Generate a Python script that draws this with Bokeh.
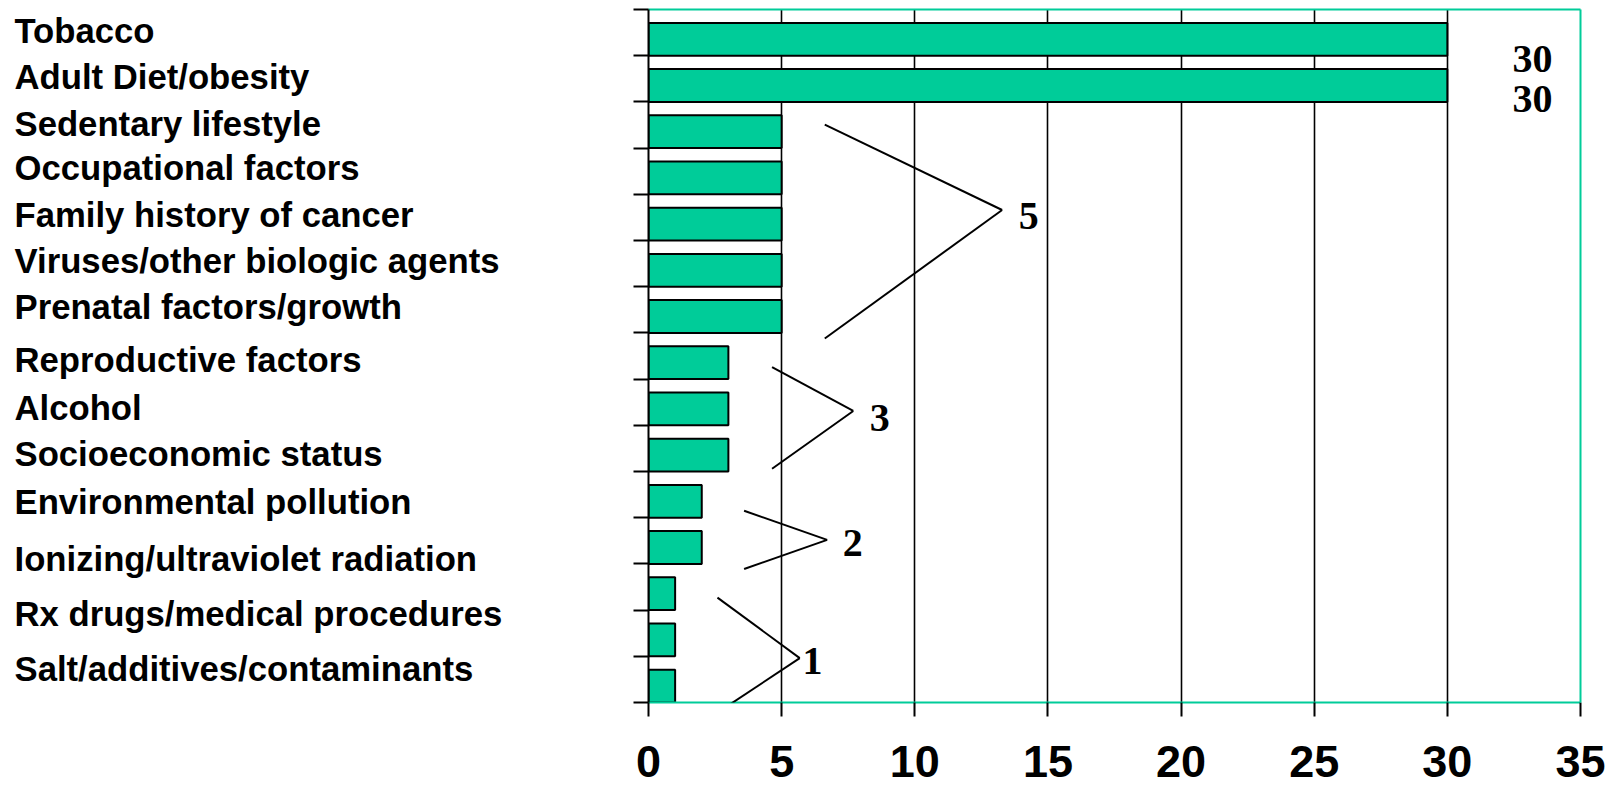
from bokeh.plotting import figure
from bokeh.layouts import row
from bokeh.models import Range1d, LinearAxis, FixedTicker, ColumnDataSource, Arrow
from bokeh.core.properties import value
from bokeh.embed import file_html
from bokeh.resources import INLINE

# ---- data -------------------------------------------------------------
# Estimated share (%) of cancer deaths attributable to each factor,
# one bar per row, listed from top to bottom.
bar_values = [30, 30, 5, 5, 5, 5, 5, 3, 3, 3, 2, 2, 1, 1, 1]

factor_labels = [
    "Tobacco",
    "Adult Diet/obesity",
    "Sedentary lifestyle",
    "Occupational factors",
    "Family history of cancer",
    "Viruses/other biologic agents",
    "Prenatal factors/growth",
    "Reproductive factors",
    "Alcohol",
    "Socioeconomic status",
    "Environmental pollution",
    "Ionizing/ultraviolet radiation",
    "Rx drugs/medical procedures",
    "Salt/additives/contaminants",
]

x_ticks = [0, 5, 10, 15, 20, 25, 30, 35]

# ---- layout / style ---------------------------------------------------
TEAL = "#00CC99"
LABEL_FONT = value("Liberation Sans")
NUM_FONT = value("Liberation Serif")
BAR_H = 0.71           # bar thickness as a fraction of one row
N_ROWS = len(bar_values)

# vertical placement of the factor names (row units, 0 = bottom)
label_rows = [14.54, 13.54, 12.53, 11.57, 10.56, 9.56, 8.57,
              7.41, 6.38, 5.38, 4.33, 3.10, 1.91, 0.73]

# bracket call-outs: which bar's value they quote, the two arm ends,
# the tip, and where the number sits
brackets = [
    dict(bar=2,  top=(6.62, 12.51), tip=(13.28, 10.66), bottom=(6.62, 7.88),  text=(14.28, 10.52)),
    dict(bar=7,  top=(4.64, 7.26),  tip=(7.69, 6.31),   bottom=(4.64, 5.06),  text=(8.68, 6.15)),
    dict(bar=10, top=(3.59, 4.15),  tip=(6.71, 3.52),   bottom=(3.59, 2.89),  text=(7.67, 3.46)),
    dict(bar=12, top=(2.59, 2.27),  tip=(5.68, 0.96),   bottom=(2.59, -0.22), text=(6.16, 0.90)),
]
# value labels for the two long bars
top_value_pos = [(33.2, 13.93), (33.2, 13.07)]

LEFT_W = 600
TOTAL_W = 1619
H = 790
TOP_B = 9
BOTTOM_B = 88

y_range = Range1d(0, N_ROWS)

# ---- left panel: factor names ----------------------------------------
names = figure(width=LEFT_W, height=H, x_range=Range1d(0, LEFT_W), y_range=y_range,
               toolbar_location=None, output_backend="svg",
               min_border_left=0, min_border_right=0,
               min_border_top=TOP_B, min_border_bottom=BOTTOM_B)
names.axis.visible = False
names.grid.visible = False
names.outline_line_color = None
names.text(x=[14] * len(factor_labels), y=label_rows, text=factor_labels,
           text_font=LABEL_FONT, text_font_style="bold", text_font_size="34.7px",
           text_align="left", text_baseline="middle", text_color="black")

# ---- right panel: bars ----------------------------------------------
p = figure(width=TOTAL_W - LEFT_W, height=H, x_range=Range1d(0, 35), y_range=y_range,
           toolbar_location=None, output_backend="svg",
           min_border_left=48, min_border_right=39,
           min_border_top=TOP_B, min_border_bottom=BOTTOM_B)
p.outline_line_color = None
p.background_fill_color = "white"

slots = [N_ROWS - 1 - i for i in range(N_ROWS)]
bars = ColumnDataSource(dict(y=[s + BAR_H / 2 for s in slots], right=bar_values))
p.hbar(y="y", left=0, right="right", height=BAR_H, source=bars,
       fill_color=TEAL, line_color="black", line_width=2)

# vertical grid lines behind the bars
p.ygrid.visible = False
p.xgrid.ticker = FixedTicker(ticks=x_ticks[1:-1])
p.xgrid.grid_line_color = "black"
p.xgrid.grid_line_width = 1.6

# bottom axis
xa = p.xaxis[0]
xa.ticker = FixedTicker(ticks=x_ticks)
xa.axis_line_color = TEAL
xa.axis_line_width = 2
xa.major_tick_out = 14
xa.major_tick_in = 0
xa.major_tick_line_width = 2
xa.major_tick_line_color = "black"
xa.minor_tick_line_color = None
xa.major_label_text_font = "Liberation Sans"
xa.major_label_text_font_style = "bold"
xa.major_label_text_font_size = "45px"
xa.major_label_text_color = "black"
xa.major_label_standoff = 29

# left axis: row dividers drawn as unlabeled minor ticks
ya = p.yaxis[0]
ya.ticker = FixedTicker(ticks=[], minor_ticks=list(range(N_ROWS + 1)))
ya.axis_line_color = "black"
ya.axis_line_width = 2
ya.major_tick_line_color = None
ya.minor_tick_out = 15
ya.minor_tick_in = 0
ya.minor_tick_line_width = 2
ya.minor_tick_line_color = "black"

# plain teal edges on top and right
for side in ("above", "right"):
    edge = LinearAxis(ticker=FixedTicker(ticks=[]), axis_line_color=TEAL, axis_line_width=2,
                      major_tick_line_color=None, minor_tick_line_color=None)
    p.add_layout(edge, side)

# bracket call-outs
segs = dict(x0=[], y0=[], x1=[], y1=[])
for b in brackets:
    for arm in (b["top"], b["bottom"]):
        segs["x0"].append(arm[0]); segs["y0"].append(arm[1])
        segs["x1"].append(b["tip"][0]); segs["y1"].append(b["tip"][1])
p.add_layout(Arrow(end=None, source=ColumnDataSource(segs),
                   x_start="x0", y_start="y0", x_end="x1", y_end="y1",
                   line_color="black", line_width=2))

num_x = [b["text"][0] for b in brackets] + [pos[0] for pos in top_value_pos]
num_y = [b["text"][1] for b in brackets] + [pos[1] for pos in top_value_pos]
num_t = [str(bar_values[b["bar"]]) for b in brackets] + [str(v) for v in bar_values[:2]]
p.text(x=num_x, y=num_y, text=num_t, text_font=NUM_FONT, text_font_style="bold",
       text_font_size="40px", text_align="center", text_baseline="middle",
       text_color="black")

layout = row(names, p)
open("out.html", "w").write(file_html(layout, INLINE))
